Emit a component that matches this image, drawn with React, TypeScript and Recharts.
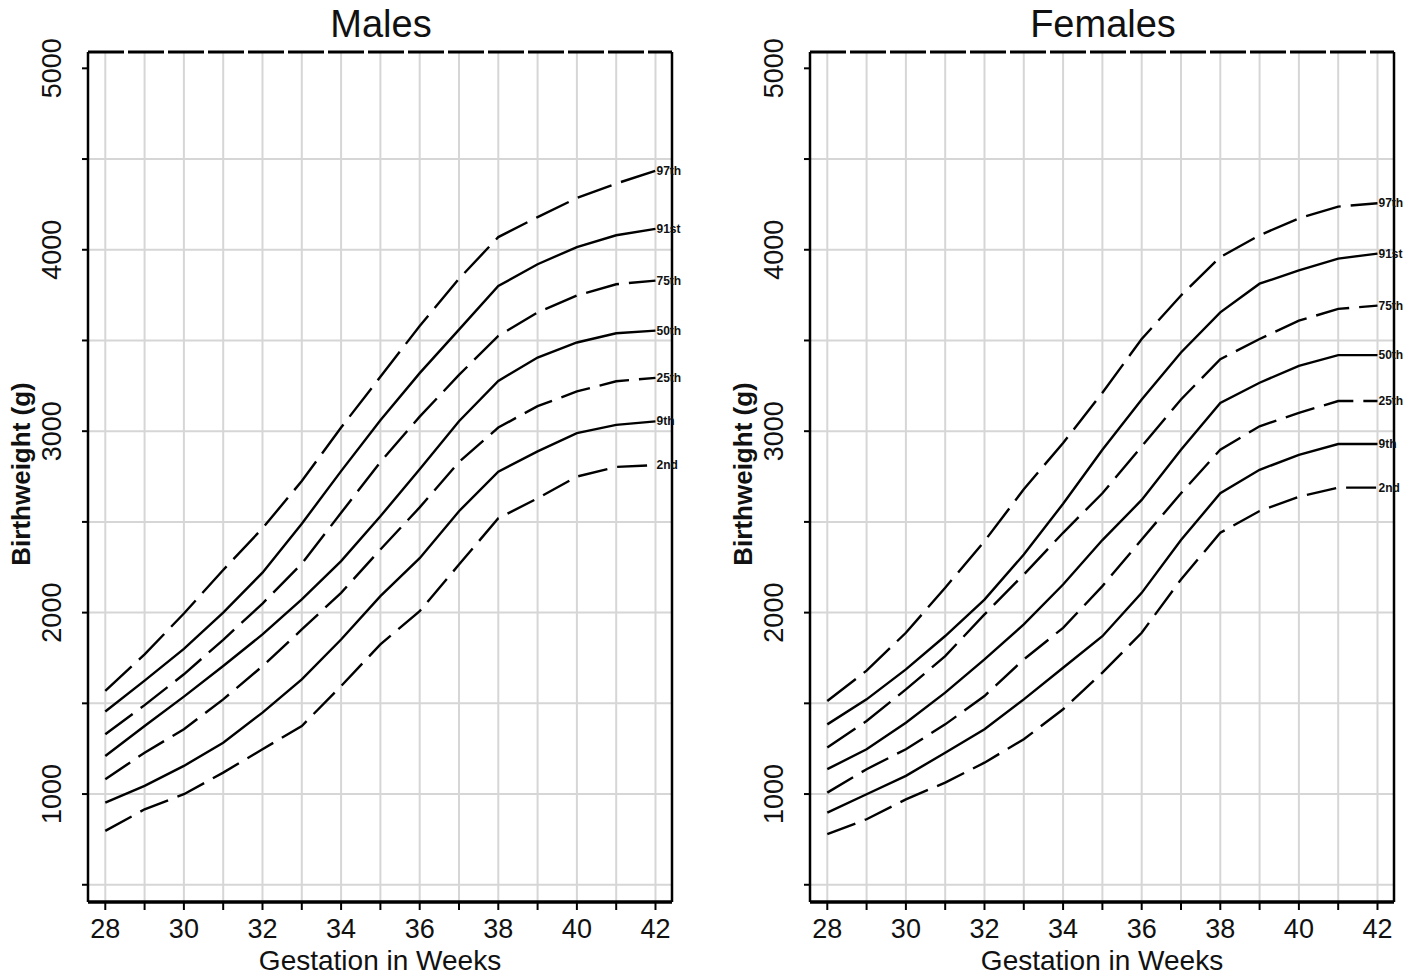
import { Line, LineChart, ReferenceLine, XAxis, YAxis } from "recharts";

const weeks = [28, 29, 30, 31, 32, 33, 34, 35, 36, 37, 38, 39, 40, 41, 42];
const percentiles = ["97th", "91st", "75th", "50th", "25th", "9th", "2nd"];

const males97 = [1568, 1770, 1995, 2235, 2465, 2725, 3020, 3300, 3580, 3840, 4070, 4180, 4285, 4365, 4435];
const males91 = [1455, 1625, 1800, 2000, 2220, 2490, 2780, 3060, 3320, 3560, 3800, 3920, 4015, 4080, 4115];
const males75 = [1330, 1490, 1660, 1850, 2050, 2270, 2550, 2830, 3080, 3310, 3525, 3655, 3748, 3810, 3830];
const males50 = [1210, 1375, 1537, 1706, 1880, 2073, 2284, 2531, 2790, 3055, 3277, 3406, 3489, 3540, 3554];
const males25 = [1082, 1228, 1357, 1522, 1705, 1907, 2109, 2348, 2580, 2830, 3020, 3138, 3219, 3275, 3294];
const males9 = [953, 1045, 1155, 1283, 1449, 1632, 1852, 2091, 2300, 2559, 2777, 2889, 2989, 3035, 3054];
const males2 = [797, 916, 999, 1118, 1247, 1375, 1595, 1825, 2008, 2265, 2520, 2630, 2750, 2803, 2813];

const females97 = [1513, 1680, 1889, 2137, 2394, 2680, 2935, 3212, 3508, 3748, 3960, 4080, 4173, 4238, 4256];
const females91 = [1384, 1522, 1687, 1871, 2072, 2320, 2600, 2898, 3175, 3434, 3655, 3813, 3886, 3951, 3979];
const females75 = [1256, 1403, 1577, 1760, 1990, 2210, 2440, 2658, 2916, 3175, 3397, 3508, 3609, 3674, 3692];
const females50 = [1137, 1247, 1393, 1559, 1742, 1935, 2155, 2400, 2621, 2898, 3156, 3267, 3360, 3419, 3419];
const females25 = [1008, 1137, 1247, 1384, 1540, 1742, 1916, 2146, 2403, 2658, 2898, 3027, 3101, 3166, 3166];
const females9 = [898, 999, 1100, 1228, 1357, 1522, 1696, 1870, 2109, 2400, 2658, 2787, 2870, 2929, 2929];
const females2 = [779, 861, 971, 1063, 1173, 1302, 1467, 1669, 1889, 2183, 2440, 2560, 2639, 2689, 2689];

const yTicks = [500, 1000, 1500, 2000, 2500, 3000, 3500, 4000, 4500, 5000];
const yGrid = [500, 1000, 1500, 2000, 2500, 3000, 3500, 4000, 4500];
const xDomain = [27.56, 42.42];
const yDomain = [405, 5090];

// dash pattern per percentile (solid for 91st, 50th, 9th)
const dashes: Record<string, string | undefined> = {
  "97th": "36 10",
  "91st": undefined,
  "75th": "34 10",
  "50th": undefined,
  "25th": "30 10",
  "9th": undefined,
  "2nd": "30 10",
};

function buildRows(series: number[][]) {
  return weeks.map((w, i) => {
    const row: Record<string, number> = { week: w };
    percentiles.forEach((p, k) => {
      row[p] = series[k][i];
    });
    return row;
  });
}

const maleRows = buildRows([males97, males91, males75, males50, males25, males9, males2]);
const femaleRows = buildRows([females97, females91, females75, females50, females25, females9, females2]);

const FONT = "'Liberation Sans', Arial, sans-serif";

const renderYTick = (props: any) => {
  const { x, y, payload } = props;
  if (payload.value % 1000 !== 0) return <g />;
  return (
    <text
      transform={`translate(${x - 19},${y}) rotate(-90)`}
      textAnchor="middle"
      fontSize={27}
      fontFamily={FONT}
      fill="#111"
    >
      {payload.value}
    </text>
  );
};

const renderXTick = (props: any) => {
  const { x, y, payload } = props;
  if (payload.value % 2 !== 0) return <g />;
  return (
    <text x={x} y={y + 26} textAnchor="middle" fontSize={27} fontFamily={FONT} fill="#111">
      {payload.value}
    </text>
  );
};

function endLabel(name: string) {
  return (p: any) => {
    if (p.index !== weeks.length - 1) return <g />;
    return (
      <text x={p.x + 1} y={p.y + 4} fontSize={12} fontWeight="bold" fontFamily={FONT} fill="#111">
        {name}
      </text>
    );
  };
}

function Panel({ title, rows, left }: { title: string; rows: Record<string, number>[]; left: number }) {
  return (
    <div style={{ position: "absolute", left, top: 0, width: 700, height: 980 }}>
      <LineChart width={700} height={980} data={rows} margin={{ top: 52, right: 28, bottom: 38, left: 0 }}>
        {yGrid.map((v) => (
          <ReferenceLine key={`h${v}`} y={v} stroke="#d6d6d6" strokeWidth={2} />
        ))}
        {weeks.map((w) => (
          <ReferenceLine key={`v${w}`} x={w} stroke="#d6d6d6" strokeWidth={2} />
        ))}
        <ReferenceLine y={yDomain[1]} stroke="#000" strokeWidth={3} strokeDasharray="36 4" />
        <ReferenceLine x={xDomain[1]} stroke="#000" strokeWidth={2.5} />
        <XAxis
          dataKey="week"
          type="number"
          domain={xDomain}
          ticks={weeks}
          allowDataOverflow
          height={40}
          tickSize={8}
          tickMargin={2}
          axisLine={{ stroke: "#000", strokeWidth: 3.5 }}
          tickLine={{ stroke: "#000", strokeWidth: 2 }}
          tick={renderXTick}
          interval={0}
        />
        <YAxis
          type="number"
          domain={yDomain}
          ticks={yTicks}
          allowDataOverflow
          width={88}
          tickSize={6}
          tickMargin={2}
          axisLine={{ stroke: "#000", strokeWidth: 2.5 }}
          tickLine={{ stroke: "#000", strokeWidth: 2 }}
          tick={renderYTick}
          interval={0}
        />
        {percentiles.map((p) => (
          <Line
            key={p}
            dataKey={p}
            type="linear"
            stroke="#000"
            strokeWidth={2.4}
            strokeDasharray={dashes[p]}
            dot={false}
            activeDot={false}
            isAnimationActive={false}
            label={endLabel(p)}
          />
        ))}
      </LineChart>
      <svg
        width={700}
        height={980}
        style={{ position: "absolute", left: 0, top: 0, pointerEvents: "none" }}
        fontFamily={FONT}
      >
        <text x={381} y={37} textAnchor="middle" fontSize={38} fill="#111">
          {title}
        </text>
        <text x={380} y={970} textAnchor="middle" fontSize={28} fill="#111">
          Gestation in Weeks
        </text>
        <text
          transform="translate(30,474) rotate(-90)"
          textAnchor="middle"
          fontSize={26}
          fontWeight="bold"
          fill="#111"
        >
          Birthweight (g)
        </text>
      </svg>
    </div>
  );
}

export default function App() {
  return (
    <div style={{ position: "absolute", left: 0, top: 0, width: 1418, height: 980, background: "#fff" }}>
      <Panel title="Males" rows={maleRows} left={0} />
      <Panel title="Females" rows={femaleRows} left={722} />
    </div>
  );
}
